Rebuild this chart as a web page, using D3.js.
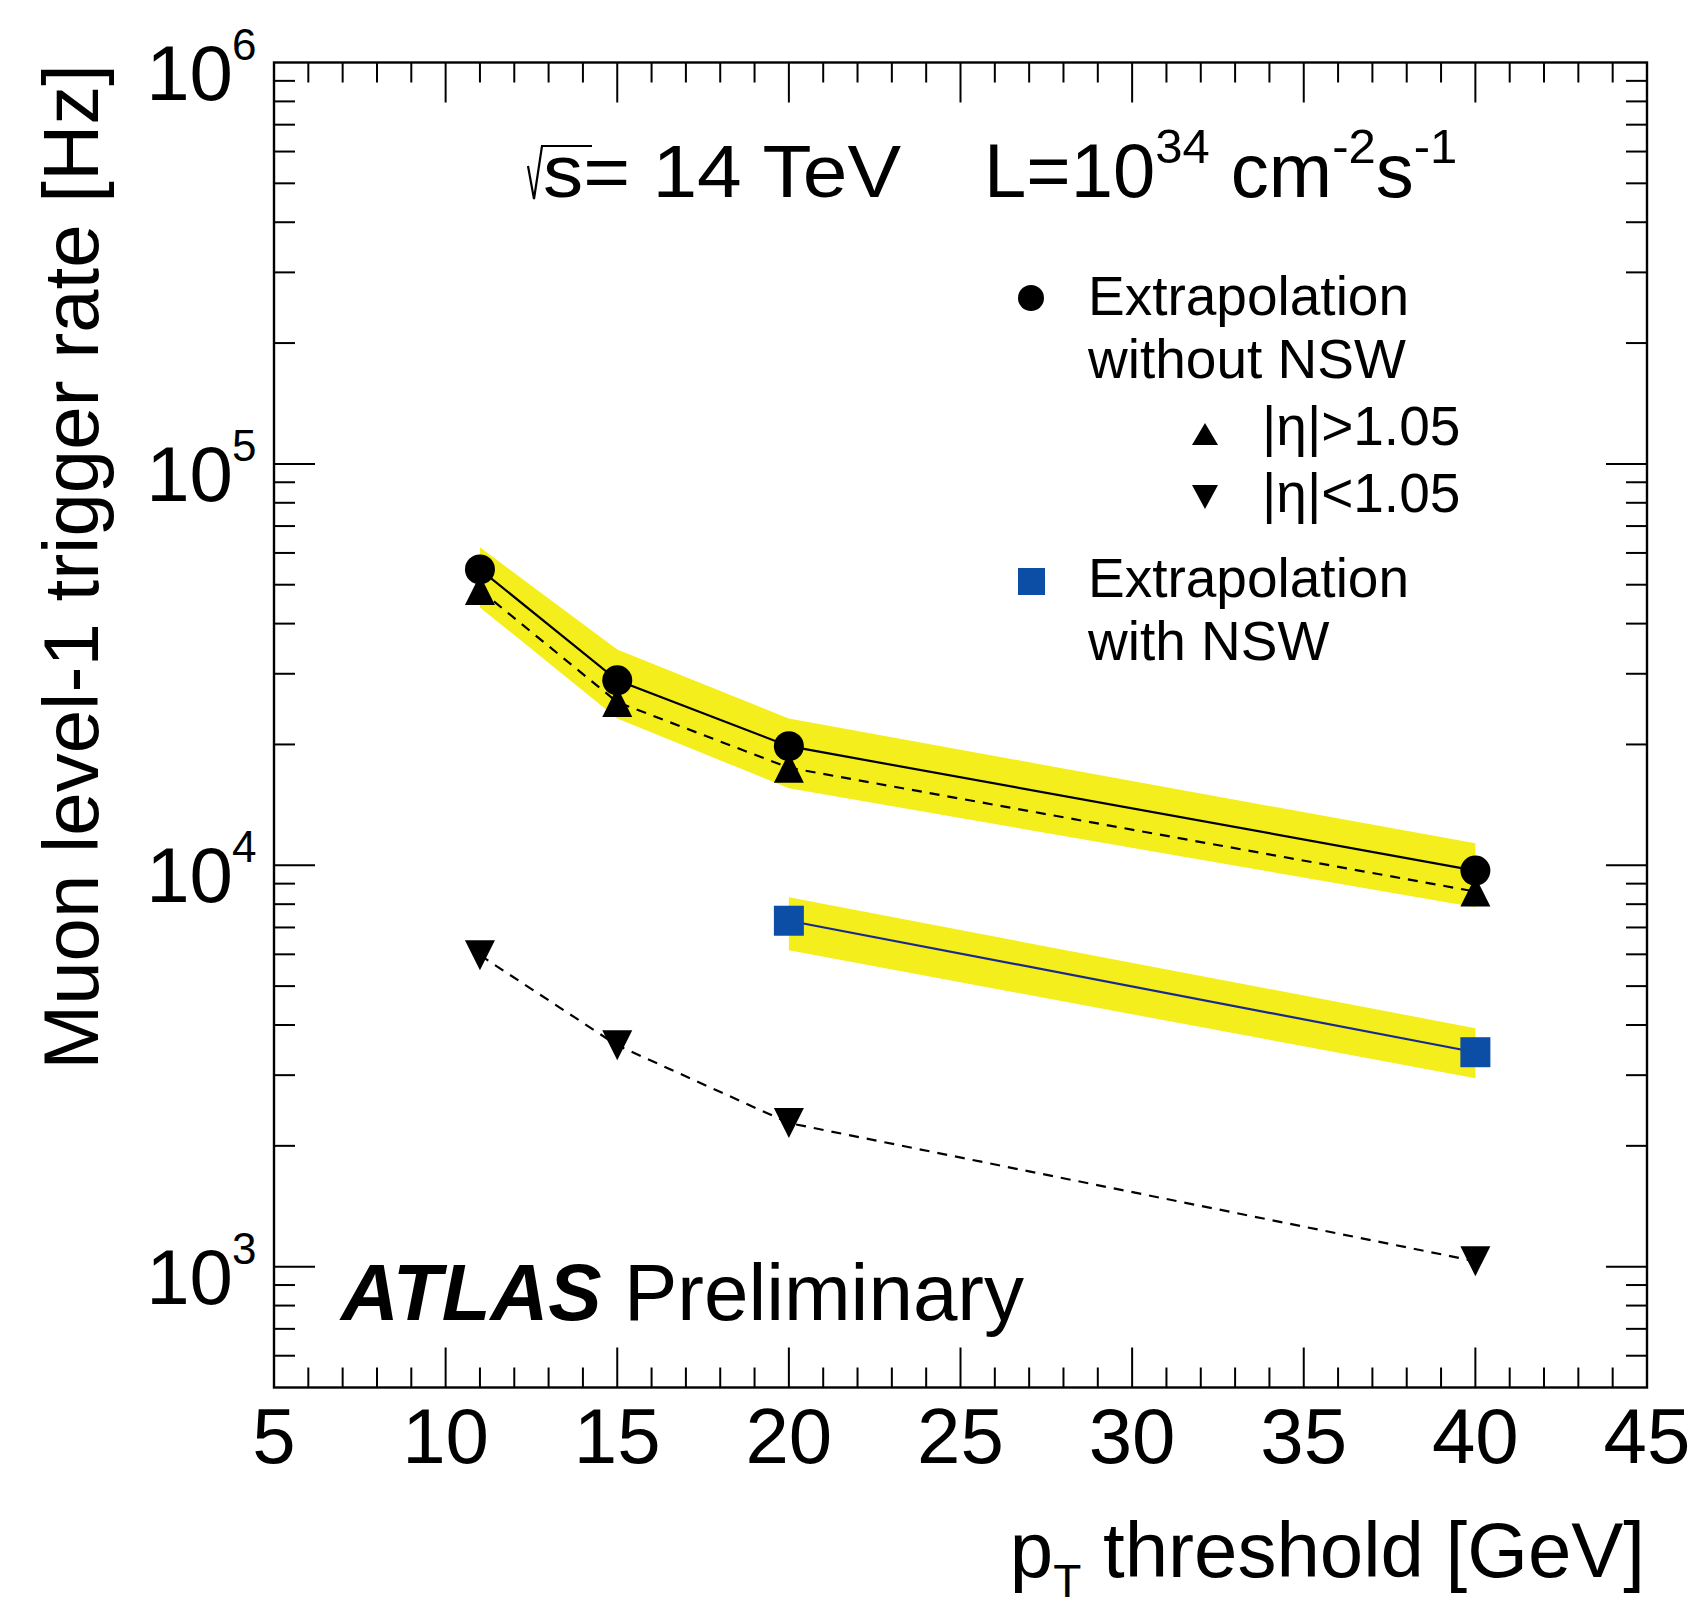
<!DOCTYPE html>
<html>
<head>
<meta charset="utf-8">
<script src="https://cdnjs.cloudflare.com/ajax/libs/d3/7.8.5/d3.min.js"></script>
<style>
  body { margin: 0; background: #ffffff; }
  svg { display: block; font-family: 'Liberation Sans', Arial, Helvetica, sans-serif; }
</style>
</head>
<body>
<svg id="canvas" width="1690" height="1612"></svg>
<script>
// values
let ptThresholds = [11, 15, 20, 40]
let rateNoNSW = [54600, 28900, 19800, 9700]
let rateEtaHigh = [48500, 25500, 17500, 8600]
let rateEtaLow = [5970, 3560, 2280, 1032]
let bandNoNSWUp = [61950, 34500, 23200, 11340]
let bandNoNSWLow = [43900, 23200, 15560, 7855]

let ptNSW = [20, 40]
let rateNSW = [7275, 3422]
let bandNSWUp = [8320, 3927]
let bandNSWLow = [6140, 2948]

let xTicks = [5, 10, 15, 20, 25, 30, 35, 40, 45]
let yDecades = [3, 4, 5, 6]

let canvas = d3.select('#canvas')

let plotLeft = 274, plotRight = 1647, plotTop = 62.5, plotBottom = 1387.5

let xScale = d3.scaleLinear().domain([5, 45]).range([plotLeft, plotRight])
let yScale = d3.scaleLog().domain([500, 1e6]).range([plotBottom, plotTop])

let yellow = '#f4ee1c'
let blue = '#0c4ea6'

// bands
let drawBand = (xs, ups, lows) => {
    let pts = xs.map((x, i) => [xScale(x), yScale(ups[i])])
    let lowPts = xs.map((x, i) => [xScale(x), yScale(lows[i])]).reverse()
    canvas.append('path')
          .attr('d', d3.line()(pts.concat(lowPts)) + 'Z')
          .attr('fill', yellow)
}
drawBand(ptThresholds, bandNoNSWUp, bandNoNSWLow)
drawBand(ptNSW, bandNSWUp, bandNSWLow)

let line = d3.line()
             .x((d) => xScale(d[0]))
             .y((d) => yScale(d[1]))

let zip = (xs, ys) => xs.map((x, i) => [x, ys[i]])

canvas.append('path')
      .attr('d', line(zip(ptThresholds, rateNoNSW)))
      .attr('fill', 'none').attr('stroke', '#000').attr('stroke-width', 2.2)
canvas.append('path')
      .attr('d', line(zip(ptThresholds, rateEtaHigh)))
      .attr('fill', 'none').attr('stroke', '#000').attr('stroke-width', 2.2)
      .attr('stroke-dasharray', '10 8')
canvas.append('path')
      .attr('d', line(zip(ptThresholds, rateEtaLow)))
      .attr('fill', 'none').attr('stroke', '#000').attr('stroke-width', 2.2)
      .attr('stroke-dasharray', '10 8')
canvas.append('path')
      .attr('d', line(zip(ptNSW, rateNSW)))
      .attr('fill', 'none').attr('stroke', '#1a2a8c').attr('stroke-width', 2.2)

// markers
let triUp = (cx, cy, w, h) => 'M' + (cx - w / 2) + ',' + (cy + h / 2) + 'L' + (cx + w / 2) + ',' + (cy + h / 2) + 'L' + cx + ',' + (cy - h / 2) + 'Z'
let triDown = (cx, cy, w, h) => 'M' + (cx - w / 2) + ',' + (cy - h / 2) + 'L' + (cx + w / 2) + ',' + (cy - h / 2) + 'L' + cx + ',' + (cy + h / 2) + 'Z'

canvas.selectAll('.triup')
      .data(zip(ptThresholds, rateEtaHigh))
      .enter().append('path')
      .attr('d', (d) => triUp(xScale(d[0]), yScale(d[1]), 30, 30))
      .attr('fill', '#000')
canvas.selectAll('.tridown')
      .data(zip(ptThresholds, rateEtaLow))
      .enter().append('path')
      .attr('d', (d) => triDown(xScale(d[0]), yScale(d[1]), 30, 30))
      .attr('fill', '#000')
canvas.selectAll('.dot')
      .data(zip(ptThresholds, rateNoNSW))
      .enter().append('circle')
      .attr('cx', (d) => xScale(d[0]))
      .attr('cy', (d) => yScale(d[1]))
      .attr('r', 15)
      .attr('fill', '#000')
canvas.selectAll('.sq')
      .data(zip(ptNSW, rateNSW))
      .enter().append('rect')
      .attr('x', (d) => xScale(d[0]) - 15)
      .attr('y', (d) => yScale(d[1]) - 15)
      .attr('width', 30).attr('height', 30)
      .attr('fill', blue)

// frame and ticks
canvas.append('rect')
      .attr('x', plotLeft).attr('y', plotTop)
      .attr('width', plotRight - plotLeft).attr('height', plotBottom - plotTop)
      .attr('fill', 'none').attr('stroke', '#000').attr('stroke-width', 2.4)

let ticks = canvas.append('g').attr('stroke', '#000').attr('stroke-width', 2)
d3.range(6, 45).forEach((v) => {
    let len = v % 5 === 0 ? 40 : 20
    ticks.append('line').attr('x1', xScale(v)).attr('x2', xScale(v)).attr('y1', plotBottom).attr('y2', plotBottom - len)
    ticks.append('line').attr('x1', xScale(v)).attr('x2', xScale(v)).attr('y1', plotTop).attr('y2', plotTop + len)
})
let yTickVals = yScale.ticks().filter((v) => v > 500 && v < 1e6)
yTickVals.forEach((v) => {
    let major = Math.abs(Math.log10(v) - Math.round(Math.log10(v))) < 1e-9
    let len = major ? 41 : 21
    ticks.append('line').attr('x1', plotLeft).attr('x2', plotLeft + len).attr('y1', yScale(v)).attr('y2', yScale(v))
    ticks.append('line').attr('x1', plotRight).attr('x2', plotRight - len).attr('y1', yScale(v)).attr('y2', yScale(v))
})

// tick labels
canvas.selectAll('.xlab')
      .data(xTicks)
      .enter().append('text')
      .attr('x', (d) => xScale(d))
      .attr('y', 1463)
      .attr('text-anchor', 'middle')
      .attr('font-size', 78)
      .text((d) => d)

yDecades.forEach((p) => {
    let yy = yScale(Math.pow(10, p))
    canvas.append('text')
          .attr('x', 233).attr('y', yy + 37)
          .attr('text-anchor', 'end')
          .attr('font-size', 78)
          .text('10')
    canvas.append('text')
          .attr('x', 232).attr('y', yy - 3)
          .attr('font-size', 44)
          .text(p)
})

// axis titles
canvas.append('text')
      .attr('transform', 'translate(98,64) rotate(-90)')
      .attr('text-anchor', 'end')
      .attr('font-size', 78)
      .text('Muon level-1 trigger rate [Hz]')

let xTitle = canvas.append('text')
      .attr('x', 1645).attr('y', 1577)
      .attr('text-anchor', 'end')
      .attr('font-size', 78)
xTitle.append('tspan').text('p')
xTitle.append('tspan').attr('font-size', 46).attr('dy', 20).text('T')
xTitle.append('tspan').attr('dy', -20).text(' threshold [GeV]')

// energy / luminosity label, radical drawn by hand
canvas.append('path')
      .attr('d', 'M528,166 L534,199 L542,146 L592,146')
      .attr('fill', 'none').attr('stroke', '#000').attr('stroke-width', 2.2)
canvas.append('text')
      .attr('x', 543).attr('y', 197)
      .attr('font-size', 75)
      .attr('textLength', 358)
      .attr('lengthAdjust', 'spacingAndGlyphs')
      .text('s= 14 TeV')

let lumi = canvas.append('text')
      .attr('x', 984).attr('y', 197)
      .attr('font-size', 76)
lumi.append('tspan').text('L=10')
lumi.append('tspan').attr('font-size', 49).attr('dy', -34).text('34')
lumi.append('tspan').attr('dy', 34).text(' cm')
lumi.append('tspan').attr('font-size', 49).attr('dy', -34).text('-2')
lumi.append('tspan').attr('dy', 34).text('s')
lumi.append('tspan').attr('font-size', 49).attr('dy', -34).text('-1')

// ATLAS label
let atlas = canvas.append('text')
      .attr('x', 341).attr('y', 1320)
      .attr('font-size', 80)
atlas.append('tspan').attr('font-weight', 'bold').attr('font-style', 'italic').text('ATLAS')
atlas.append('tspan').text(' Preliminary')

// legend
let legendText = [
    { x: 1088, y: 315, t: 'Extrapolation' },
    { x: 1088, y: 378, t: 'without NSW' },
    { x: 1262, y: 445, t: '|\u03b7|>1.05' },
    { x: 1262, y: 512, t: '|\u03b7|<1.05' },
    { x: 1088, y: 597, t: 'Extrapolation' },
    { x: 1088, y: 660, t: 'with NSW' }
]
canvas.selectAll('.leg')
      .data(legendText)
      .enter().append('text')
      .attr('x', (d) => d.x).attr('y', (d) => d.y)
      .attr('font-size', 55)
      .text((d) => d.t)

canvas.append('circle').attr('cx', 1031).attr('cy', 298).attr('r', 13).attr('fill', '#000')
canvas.append('path').attr('d', triUp(1205, 434, 26, 22)).attr('fill', '#000')
canvas.append('path').attr('d', triDown(1205, 497, 26, 24)).attr('fill', '#000')
canvas.append('rect').attr('x', 1018).attr('y', 568).attr('width', 27).attr('height', 27).attr('fill', blue)
</script>
</body>
</html>
